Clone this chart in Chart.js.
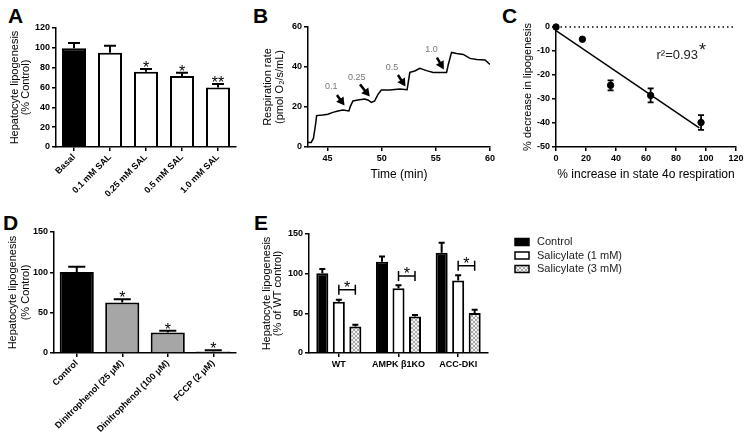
<!DOCTYPE html>
<html>
<head>
<meta charset="utf-8">
<script src="https://cdn.jsdelivr.net/npm/chart.js@4.4.0/dist/chart.umd.min.js"></script>
<style>
body{margin:0;background:#fff;width:751px;height:443px;position:relative;overflow:hidden;font-family:Arial,"Liberation Sans",sans-serif}
canvas{position:absolute}
.lbl{position:absolute;font-weight:bold;font-size:21px;line-height:1;color:#000}
</style>
</head>
<body>
<div class="lbl" style="left:8px;top:5px">A</div>
<div class="lbl" style="left:253px;top:5px">B</div>
<div class="lbl" style="left:502px;top:5px">C</div>
<div class="lbl" style="left:3px;top:212px">D</div>
<div class="lbl" style="left:254px;top:212px">E</div>
<canvas id="chartA" width="245" height="185" style="left:0;top:20px"></canvas>
<canvas id="chartB" width="250" height="172" style="left:250px;top:15px"></canvas>
<canvas id="chartC" width="251" height="172" style="left:500px;top:15px"></canvas>
<canvas id="chartD" width="250" height="228" style="left:0;top:215px"></canvas>
<canvas id="chartE" width="496" height="165" style="left:255px;top:215px"></canvas>
<script>
// A - salicylate dose
const salLabels = ['Basal', '0.1 mM SAL', '0.25 mM SAL', '0.5 mM SAL', '1.0 mM SAL'];
const salValues = [99.5, 95, 76, 71.5, 60];
const salErrors = [5.5, 7, 2.7, 3.3, 3.5];
const salStars = ['', '', '*', '*', '**'];

// B - respiration trace
const timeMin = [43.18, 43.49, 43.7, 43.89, 44.0, 44.56, 45.03, 45.5, 45.96, 46.42, 46.73, 46.98, 47.1, 47.35, 47.8, 48.43, 48.73, 49.05, 49.35, 49.66, 49.97, 50.74, 51.67, 52.35, 52.44, 52.6, 53.06, 53.52, 54.14, 54.75, 55.99, 56.14, 56.45, 56.92, 57.53, 58.15, 58.77, 59.54, 60];
const respRate = [2.3, 2.3, 4.3, 11, 15.7, 16, 16.4, 17.3, 18, 18.5, 18.2, 18, 20.2, 23, 23.5, 24, 23.5, 22.3, 23, 26.3, 28.5, 28.5, 29, 28.6, 31.8, 37.3, 38, 39.3, 38.2, 37.3, 37.3, 41, 47.3, 46.8, 46.3, 44.3, 43.8, 43.5, 41.3];
const arrowLabels = ['0.1', '0.25', '0.5', '1.0'];
const arrowLabelX = [45.34, 47.7, 50.95, 54.6];
const arrowLabelY = [30.2, 34.7, 39.7, 48.5];
const arrowTailX = [45.87, 48.0, 51.5, 55.1];
const arrowTailY = [26, 31.3, 36, 44.7];
const arrowTipX = [46.57, 48.9, 52.2, 55.74];
const arrowTipY = [20.7, 25.2, 30.2, 38.8];

// C - correlation
const respIncrease = [0, 17.6, 36.4, 63.1, 96.7];
const lipoDecrease = [0, -5.1, -24.3, -28.5, -39.8];
const lipoErr = [0, 0, 2.1, 2.9, 3.1];
const fitX = [0, 95.5];
const fitY = [-1.5, -42];

// D - uncouplers
const uncLabels = ['Control', 'Dinitrophenol (25 \u03bcM)', 'Dinitrophenol (100 \u03bcM)', 'FCCP (2 \u03bcM)'];
const uncValues = [100.5, 62.5, 25.5, 2];
const uncErrors = [6.3, 4, 2, 1.3];
const uncStars = ['', '*', '*', '*'];

// E - genotypes
const genoLabels = ['WT', 'AMPK \u03b21KO', 'ACC-DKI'];
const ctrlValues = [100.5, 115, 126.5];
const ctrlErrors = [5.5, 6.5, 12.5];
const sal1Values = [64.5, 81.7, 91.3];
const sal1Errors = [2.5, 3.8, 6.7];
const sal3Values = [33.5, 46, 50.3];
const sal3Errors = [2.1, 1.8, 4.2];
const bracketY = [79.6, 97, 110];
const bracketStars = ['*', '*', '*'];

Chart.defaults.font.family = 'Arial, "Liberation Sans", sans-serif';
Chart.defaults.color = '#000';
Chart.defaults.animation = false;
Chart.defaults.plugins.legend.display = false;
Chart.defaults.plugins.tooltip.enabled = false;

const border = {color: '#000', width: 1.5};
const grid = {drawOnChartArea: false, color: '#000', lineWidth: 1.5, tickLength: 4, offset: false};
const tickFont = {size: 9, weight: 'bold'};
const titleFont = {size: 11, lineHeight: 1.0};

// upper error bars + stars on bars
const barErrors = {
  id: 'barErrors',
  afterDatasetsDraw(chart) {
    const ctx = chart.ctx, ys = chart.scales.y;
    chart.data.datasets.forEach((ds, di) => {
      if (!ds.errors) return;
      chart.getDatasetMeta(di).data.forEach((bar, i) => {
        const top = ys.getPixelForValue(ds.data[i] + ds.errors[i]);
        const half = bar.width / 4;
        ctx.save();
        ctx.strokeStyle = '#000';
        ctx.lineWidth = 2;
        ctx.beginPath();
        ctx.moveTo(bar.x, bar.y);
        ctx.lineTo(bar.x, top);
        ctx.moveTo(bar.x - half, top);
        ctx.lineTo(bar.x + half, top);
        ctx.stroke();
        if (ds.stars && ds.stars[i]) {
          ctx.fillStyle = '#000';
          ctx.font = '16px Arial';
          ctx.textAlign = 'center';
          ctx.textBaseline = 'alphabetic';
          ctx.fillText(ds.stars[i], bar.x, top + 4);
        }
        ctx.restore();
      });
    });
  }
};

const makeChecker = () => {
  const c = document.createElement('canvas');
  c.width = 4; c.height = 4;
  const g = c.getContext('2d');
  g.fillStyle = '#f2f2f2'; g.fillRect(0, 0, 4, 4);
  g.fillStyle = '#a8a8a8'; g.fillRect(0, 0, 2, 2); g.fillRect(2, 2, 2, 2);
  return g.createPattern(c, 'repeat');
};

// A
new Chart(document.getElementById('chartA'), {
  type: 'bar',
  data: {
    labels: salLabels,
    datasets: [{
      data: salValues, errors: salErrors, stars: salStars,
      backgroundColor: salValues.map((v, i) => i === 0 ? '#000' : '#fff'),
      borderColor: '#000', borderWidth: 2,
      barPercentage: 1, categoryPercentage: 0.667
    }]
  },
  options: {
    responsive: false,
    layout: {padding: {left: 9, top: 8, right: 9, bottom: 0}},
    scales: {
      x: {border, grid, ticks: {font: tickFont, minRotation: 45, maxRotation: 45, autoSkip: false, padding: 1}, afterFit(s) { s.height = 58; }},
      y: {min: 0, max: 120, border, grid,
        ticks: {font: tickFont, stepSize: 20, padding: 2},
        title: {display: true, text: ['Hepatocyte lipogenesis', '(% Control)'], font: titleFont, padding: 0},
        afterFit(s) { s.width = 47; }}
    }
  },
  plugins: [barErrors]
});

// B
const arrows = {
  id: 'arrows',
  afterDatasetsDraw(chart) {
    const ctx = chart.ctx, xs = chart.scales.x, ys = chart.scales.y;
    ctx.save();
    arrowLabels.forEach((t, i) => {
      ctx.fillStyle = '#777';
      ctx.font = '9px Arial';
      ctx.textAlign = 'center';
      ctx.textBaseline = 'middle';
      ctx.fillText(t, xs.getPixelForValue(arrowLabelX[i]), ys.getPixelForValue(arrowLabelY[i]));
      const x0 = xs.getPixelForValue(arrowTailX[i]), y0 = ys.getPixelForValue(arrowTailY[i]);
      const x1 = xs.getPixelForValue(arrowTipX[i]), y1 = ys.getPixelForValue(arrowTipY[i]);
      const a = Math.atan2(y1 - y0, x1 - x0);
      const hx = x1 - 6 * Math.cos(a), hy = y1 - 6 * Math.sin(a);
      ctx.strokeStyle = '#000';
      ctx.lineWidth = 2.5;
      ctx.beginPath(); ctx.moveTo(x0, y0); ctx.lineTo(hx, hy); ctx.stroke();
      ctx.fillStyle = '#000';
      ctx.beginPath();
      ctx.moveTo(x1, y1);
      ctx.lineTo(x1 - 8 * Math.cos(a) + 4.5 * Math.sin(a), y1 - 8 * Math.sin(a) - 4.5 * Math.cos(a));
      ctx.lineTo(x1 - 8 * Math.cos(a) - 4.5 * Math.sin(a), y1 - 8 * Math.sin(a) + 4.5 * Math.cos(a));
      ctx.closePath(); ctx.fill();
    });
    ctx.restore();
  }
};

new Chart(document.getElementById('chartB'), {
  type: 'line',
  data: {
    datasets: [{
      data: timeMin.map((t, i) => ({x: t, y: respRate[i]})),
      borderColor: '#000', borderWidth: 1.5, pointRadius: 0, tension: 0
    }]
  },
  options: {
    responsive: false,
    layout: {padding: {left: 12, top: 12, right: 10, bottom: 5}},
    scales: {
      x: {type: 'linear', min: 43.2, max: 60, border, grid,
        ticks: {font: tickFont, stepSize: 5, includeBounds: false, padding: 2},
        title: {display: true, text: 'Time (min)', font: {size: 12}, padding: 0},
        afterFit(s) { s.height = 35; }},
      y: {min: 0, max: 60, border, grid,
        ticks: {font: tickFont, stepSize: 20, padding: 2},
        title: {display: true, text: ['Respiration rate', '(pmol O\u2082/s/mL)'], font: {size: 11, lineHeight: 1.1}, padding: 0},
        afterFit(s) { s.width = 46; }}
    }
  },
  plugins: [arrows]
});

// C
const pointErrors = {
  id: 'pointErrors',
  afterDatasetsDraw(chart) {
    const ctx = chart.ctx, ys = chart.scales.y, xs = chart.scales.x;
    ctx.save();
    ctx.strokeStyle = '#000';
    ctx.lineWidth = 1.8;
    respIncrease.forEach((x, i) => {
      if (!lipoErr[i]) return;
      const px = xs.getPixelForValue(x);
      const a = ys.getPixelForValue(lipoDecrease[i] + lipoErr[i]);
      const b = ys.getPixelForValue(lipoDecrease[i] - lipoErr[i]);
      ctx.beginPath();
      ctx.moveTo(px, a); ctx.lineTo(px, b);
      ctx.moveTo(px - 3, a); ctx.lineTo(px + 3, a);
      ctx.moveTo(px - 3, b); ctx.lineTo(px + 3, b);
      ctx.stroke();
    });
    // r squared annotation
    ctx.fillStyle = '#222';
    ctx.font = '13px Arial';
    ctx.textAlign = 'left';
    ctx.textBaseline = 'alphabetic';
    const tx = xs.getPixelForValue(67), ty = ys.getPixelForValue(-13.5);
    ctx.fillText('r\u00b2=0.93', tx, ty);
    const w = ctx.measureText('r\u00b2=0.93').width;
    ctx.font = '18px Arial';
    ctx.fillText('*', tx + w + 1, ty - 3);
    ctx.restore();
  }
};

new Chart(document.getElementById('chartC'), {
  type: 'scatter',
  data: {
    datasets: [
      {data: respIncrease.map((x, i) => ({x, y: lipoDecrease[i]})), backgroundColor: '#000', borderColor: '#000', pointRadius: 3.2, clip: false},
      {data: fitX.map((x, i) => ({x, y: fitY[i]})), showLine: true, borderColor: '#000', borderWidth: 1.5, pointRadius: 0},
      {data: [{x: 0, y: 0}, {x: 120, y: 0}], showLine: true, borderColor: '#000', borderWidth: 1.5, borderDash: [1.5, 3], pointRadius: 0, clip: false}
    ]
  },
  options: {
    responsive: false,
    layout: {padding: {left: 21, top: 12, right: 15, bottom: 5}},
    scales: {
      x: {min: 0, max: 120, border, grid,
        ticks: {font: tickFont, stepSize: 20, padding: 2},
        title: {display: true, text: '% increase in state 4o respiration', font: {size: 12}, padding: 0},
        afterFit(s) { s.height = 35; }},
      y: {min: -50, max: 0, border, grid,
        ticks: {font: tickFont, stepSize: 10, padding: 2},
        title: {display: true, text: '% decrease in lipogenesis', font: {size: 11, lineHeight: 1.2}, padding: 0},
        afterFit(s) { s.width = 35; }}
    }
  },
  plugins: [pointErrors]
});

// D
new Chart(document.getElementById('chartD'), {
  type: 'bar',
  data: {
    labels: uncLabels,
    datasets: [{
      data: uncValues, errors: uncErrors, stars: uncStars,
      backgroundColor: uncValues.map((v, i) => i === 0 ? '#000' : '#a6a6a6'),
      borderColor: '#000', borderWidth: 2,
      barPercentage: 1, categoryPercentage: 0.75
    }]
  },
  options: {
    responsive: false,
    layout: {padding: {left: 7, top: 17, right: 14, bottom: 0}},
    scales: {
      x: {border, grid, ticks: {font: tickFont, minRotation: 45, maxRotation: 45, autoSkip: false, padding: 1}, afterFit(s) { s.height = 90; }},
      y: {min: 0, max: 150, border, grid,
        ticks: {font: tickFont, stepSize: 50, padding: 2},
        title: {display: true, text: ['Hepatocyte lipogenesis', '(% Control)'], font: {size: 11, lineHeight: 1.15}, padding: 0},
        afterFit(s) { s.width = 47; }}
    }
  },
  plugins: [barErrors]
});

// E
const brackets = {
  id: 'brackets',
  afterDraw(chart) {
    const ctx = chart.ctx, ys = chart.scales.y;
    const m1 = chart.getDatasetMeta(1).data, m2 = chart.getDatasetMeta(2).data;
    ctx.save();
    ctx.strokeStyle = '#000';
    ctx.fillStyle = '#000';
    ctx.lineWidth = 1.5;
    bracketY.forEach((v, i) => {
      const y = ys.getPixelForValue(v);
      ctx.beginPath();
      ctx.moveTo(m1[i].x, y + 5); ctx.lineTo(m1[i].x, y - 5);
      ctx.moveTo(m1[i].x, y); ctx.lineTo(m2[i].x, y);
      ctx.moveTo(m2[i].x, y + 5); ctx.lineTo(m2[i].x, y - 5);
      ctx.stroke();
      ctx.font = '16px Arial';
      ctx.textAlign = 'center';
      ctx.textBaseline = 'alphabetic';
      ctx.fillText(bracketStars[i], (m1[i].x + m2[i].x) / 2, y + 3);
    });
    // legend
    const x0 = chart.chartArea.right + 27;
    chart.data.datasets.forEach((ds, i) => {
      const y = chart.chartArea.top + 8 + i * 13.5;
      ctx.fillStyle = ds.backgroundColor;
      ctx.fillRect(x0, y - 3.5, 14, 7);
      ctx.lineWidth = 1.5;
      ctx.strokeRect(x0, y - 3.5, 14, 7);
      ctx.fillStyle = '#222';
      ctx.font = '11px Arial';
      ctx.textAlign = 'left';
      ctx.textBaseline = 'middle';
      ctx.fillText(ds.label, x0 + 22, y);
    });
    ctx.restore();
  }
};

const barStyle = {borderColor: '#000', borderWidth: 2, barPercentage: 0.73, categoryPercentage: 0.83};
new Chart(document.getElementById('chartE'), {
  type: 'bar',
  data: {
    labels: genoLabels,
    datasets: [
      {label: 'Control', data: ctrlValues, errors: ctrlErrors, backgroundColor: '#000', ...barStyle},
      {label: 'Salicylate (1 mM)', data: sal1Values, errors: sal1Errors, backgroundColor: '#fff', ...barStyle},
      {label: 'Salicylate (3 mM)', data: sal3Values, errors: sal3Errors, backgroundColor: makeChecker(), ...barStyle}
    ]
  },
  options: {
    responsive: false,
    layout: {padding: {left: 6, top: 19, right: 263, bottom: 0}},
    scales: {
      x: {border, grid, ticks: {font: tickFont, padding: 2}, afterFit(s) { s.height = 27; }},
      y: {min: 0, max: 150, border, grid,
        ticks: {font: tickFont, stepSize: 50, padding: 2},
        title: {display: true, text: ['Hepatocyte lipogenesis', '(% of WT control)'], font: titleFont, padding: 0},
        afterFit(s) { s.width = 48; }}
    }
  },
  plugins: [barErrors, brackets]
});
</script>
</body>
</html>
